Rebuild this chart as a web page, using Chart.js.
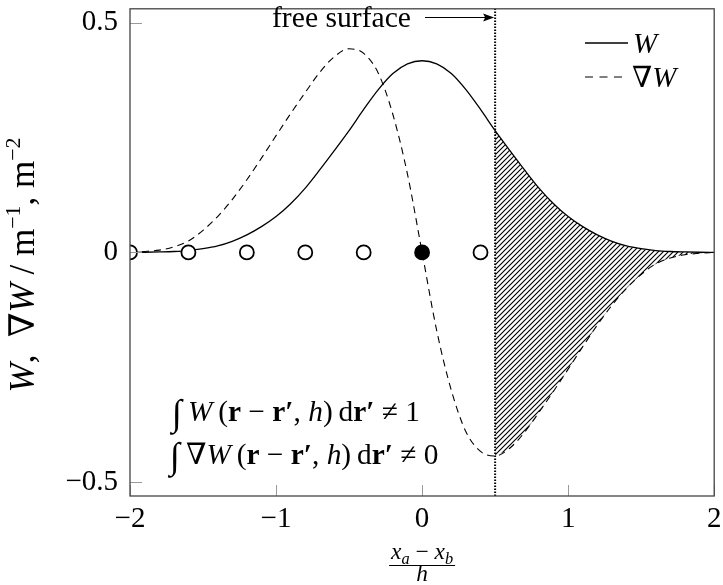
<!DOCTYPE html>
<html>
<head>
<meta charset="utf-8">
<script src="https://cdn.jsdelivr.net/npm/chart.js@4.4.1/dist/chart.umd.min.js"></script>
<style>
  html, body { margin: 0; padding: 0; background: #fff; }
  #wrap { width: 723px; height: 585px; }
</style>
</head>
<body>
<div id="wrap"><canvas id="myChart" width="723" height="585"></canvas></div>
<script>
// kernel values
const xValues = [-2.0, -1.9, -1.8, -1.7, -1.6, -1.5, -1.4, -1.3, -1.2, -1.1, -1.0,
                 -0.9, -0.8, -0.7, -0.6, -0.5, -0.4, -0.3, -0.2, -0.1, 0.0,
                 0.1, 0.2, 0.3, 0.4, 0.5, 0.6, 0.7, 0.8, 0.9, 1.0,
                 1.1, 1.2, 1.3, 1.4, 1.5, 1.6, 1.7, 1.8, 1.9, 2.0];
const wValues = [0.0, 0.0003, 0.001, 0.002, 0.004, 0.008, 0.014, 0.024, 0.038, 0.056, 0.078,
                 0.106, 0.140, 0.180, 0.222, 0.265, 0.311, 0.354, 0.389, 0.410, 0.417,
                 0.410, 0.389, 0.354, 0.311, 0.265, 0.222, 0.180, 0.140, 0.106, 0.078,
                 0.056, 0.038, 0.024, 0.014, 0.008, 0.004, 0.002, 0.001, 0.0003, 0.0];
const gradWValues = [0.0, 0.002, 0.005, 0.012, 0.025, 0.048, 0.078, 0.115, 0.158, 0.205, 0.254,
                     0.302, 0.348, 0.392, 0.426, 0.443, 0.433, 0.39, 0.30, 0.17, 0.0,
                     -0.17, -0.30, -0.39, -0.433, -0.443, -0.426, -0.392, -0.348, -0.302, -0.254,
                     -0.205, -0.158, -0.115, -0.078, -0.048, -0.025, -0.012, -0.005, -0.002, 0.0];
const particleX = [-2.0, -1.6, -1.2, -0.8, -0.4, 0.0, 0.4];
const particleY = [0, 0, 0, 0, 0, 0, 0];
const centreParticle = 0.0;
const surfaceX = 0.5;
const xTicks = [-2, -1, 0, 1, 2];
const yTicks = [-0.5, 0, 0.5];

const serif = '"Liberation Serif", "DejaVu Serif", serif';
const canvas = document.getElementById('myChart');

function makeHatch() {
    const s = 5;
    const c = document.createElement('canvas');
    c.width = s; c.height = s;
    const g = c.getContext('2d');
    g.strokeStyle = '#000';
    g.lineWidth = 1.15;
    g.beginPath();
    g.moveTo(0, s); g.lineTo(s, 0);
    g.moveTo(-1, 1); g.lineTo(1, -1);
    g.moveTo(s - 1, s + 1); g.lineTo(s + 1, s - 1);
    g.stroke();
    return g.createPattern(c, 'repeat');
}

const pts = (ys) => xValues.map((x, i) => ({ x: x, y: ys[i] }));
const beyond = (ys) => xValues.map((x, i) => ({ x: x, y: ys[i] })).filter(p => p.x >= surfaceX);

// parts: [text, style, sizeFactor, dyFactor]
function fontOf(p, size) {
    return (p[1] || '') + ' ' + (size * (p[2] || 1)).toFixed(2) + 'px ' + serif;
}
function richWidth(ctx, parts, size) {
    let w = 0;
    parts.forEach(p => { ctx.font = fontOf(p, size); w += ctx.measureText(p[0]).width; });
    return w;
}
function fitSize(ctx, parts, size, target) {
    return size * target / richWidth(ctx, parts, size);
}
function drawRich(ctx, parts, size, x, y, align) {
    const total = richWidth(ctx, parts, size);
    let cx = align === 'center' ? x - total / 2 : x;
    parts.forEach(p => {
        ctx.font = fontOf(p, size);
        ctx.fillText(p[0], cx, y + (p[3] || 0) * size);
        cx += ctx.measureText(p[0]).width;
    });
}

const decor = {
    id: 'decor',
    afterDraw(chart) {
        const ctx = chart.ctx;
        const a = chart.chartArea;
        const xs = chart.scales.x, ys = chart.scales.y;
        ctx.save();

        // inside ticks
        ctx.strokeStyle = '#9a9a9a';
        ctx.lineWidth = 1;
        ctx.beginPath();
        xTicks.forEach(v => {
            const px = Math.round(xs.getPixelForValue(v)) + 0.5;
            ctx.moveTo(px, a.bottom); ctx.lineTo(px, a.bottom - 11);
        });
        yTicks.forEach(v => {
            const py = Math.round(ys.getPixelForValue(v)) + 0.5;
            ctx.moveTo(a.left, py); ctx.lineTo(a.left + 12, py);
        });
        ctx.stroke();

        // frame
        ctx.strokeStyle = '#444';
        ctx.lineWidth = 1.3;
        ctx.strokeRect(a.left, a.top, a.right - a.left, a.bottom - a.top);

        ctx.fillStyle = '#000';
        ctx.textBaseline = 'alphabetic';
        ctx.textAlign = 'left';

        // free surface label + arrow
        const sx = xs.getPixelForValue(surfaceX);
        const fsParts = [['free surface', '']];
        drawRich(ctx, fsParts, fitSize(ctx, fsParts, 28, 139), 272, 27);
        ctx.strokeStyle = '#000';
        ctx.lineWidth = 1.2;
        ctx.beginPath();
        ctx.moveTo(425, 17.5); ctx.lineTo(sx - 8, 17.5);
        ctx.stroke();
        ctx.beginPath();
        ctx.moveTo(sx - 1, 17.5); ctx.lineTo(sx - 12, 13.5); ctx.lineTo(sx - 10, 17.5); ctx.lineTo(sx - 12, 21.5);
        ctx.closePath(); ctx.fill();

        // legend
        ctx.lineWidth = 1.3;
        ctx.setLineDash([]);
        ctx.beginPath(); ctx.moveTo(585, 43); ctx.lineTo(628, 43); ctx.stroke();
        ctx.lineWidth = 1.1;
        ctx.setLineDash([8, 6.5]);
        ctx.beginPath(); ctx.moveTo(585, 77); ctx.lineTo(628, 77); ctx.stroke();
        ctx.setLineDash([]);
        drawRich(ctx, [['W', 'italic']], 29, 633, 53);
        drawRich(ctx, [['\u2207', ''], ['W', 'italic']], 29, 632, 87);

        // integral annotations
        const line1 = [['\u222B', '', 1.25, 0.12], ['\u2009', ''], ['W', 'italic'], ['\u2009(', ''], ['r', 'bold'], [' \u2212 ', ''],
                       ['r\u2032', 'bold'], [', ', ''], ['h', 'italic'], [')\u2009d', ''], ['r\u2032', 'bold'], [' \u2260 1', '']];
        const line2 = [['\u222B', '', 1.25, 0.12], ['\u2009\u2207', ''], ['W', 'italic'], ['\u2009(', ''], ['r', 'bold'], [' \u2212 ', ''],
                       ['r\u2032', 'bold'], [', ', ''], ['h', 'italic'], [')\u2009d', ''], ['r\u2032', 'bold'], [' \u2260 0', '']];
        const isz = fitSize(ctx, line1, 25, 248);
        drawRich(ctx, line1, isz, 172, 421);
        drawRich(ctx, line2, isz, 170, 464);

        // x axis title as fraction
        const cx = (a.left + a.right) / 2;
        const num = [['x', 'italic'], ['a', 'italic', 0.7, 0.2], [' \u2212 ', ''], ['x', 'italic'], ['b', 'italic', 0.7, 0.2]];
        const nsz = fitSize(ctx, num, 22, 62);
        drawRich(ctx, num, nsz, cx, 559, 'center');
        ctx.lineWidth = 1;
        ctx.beginPath(); ctx.moveTo(cx - 33, 565.5); ctx.lineTo(cx + 33, 565.5); ctx.stroke();
        drawRich(ctx, [['h', 'italic']], nsz, cx, 581, 'center');

        // y axis title, rotated
        ctx.translate(34, 265);
        ctx.rotate(-Math.PI / 2);
        const yt = [['W', 'italic'], [',  \u2207', ''], ['W', 'italic'], [' / m', ''], ['\u22121', '', 0.62, -0.4],
                    [', m', ''], ['\u22122', '', 0.62, -0.4]];
        drawRich(ctx, yt, fitSize(ctx, yt, 28, 255), 0, 0, 'center');
        ctx.restore();
    }
};

const fmt = v => (v < 0 ? '\u2212' + Math.abs(v) : String(v));

new Chart(canvas, {
    type: 'line',
    data: {
        datasets: [
            {
                label: 'particles',
                data: particleX.map((x, i) => ({ x: x, y: particleY[i] })),
                showLine: false,
                pointRadius: 7,
                pointBorderWidth: 1.8,
                pointBorderColor: '#000',
                pointBackgroundColor: particleX.map(x => (x === centreParticle ? '#000' : '#fff')),
                clip: 0
            },
            {
                label: 'W',
                data: pts(wValues),
                borderColor: '#000',
                borderWidth: 1.3,
                pointRadius: 0,
                cubicInterpolationMode: 'monotone',
                fill: false
            },
            {
                label: '\u2207W',
                data: pts(gradWValues),
                borderColor: '#000',
                borderWidth: 1.1,
                borderDash: [7, 5],
                pointRadius: 0,
                cubicInterpolationMode: 'monotone',
                fill: false
            },
            {
                label: 'surface',
                data: [{ x: surfaceX, y: -0.53 }, { x: surfaceX, y: 0.53 }],
                borderColor: '#000',
                borderWidth: 2,
                borderDash: [1.6, 1.4],
                pointRadius: 0,
                fill: false
            },
            {
                label: 'hatchTop',
                data: beyond(wValues),
                borderWidth: 0,
                borderColor: 'rgba(0,0,0,0)',
                pointRadius: 0,
                cubicInterpolationMode: 'monotone',
                backgroundColor: makeHatch(),
                fill: '+1'
            },
            {
                label: 'hatchBottom',
                data: beyond(gradWValues),
                borderWidth: 0,
                borderColor: 'rgba(0,0,0,0)',
                pointRadius: 0,
                cubicInterpolationMode: 'monotone',
                fill: false
            }
        ]
    },
    options: {
        responsive: false,
        animation: false,
        layout: { padding: { left: 0, right: 4, top: 4, bottom: 0 } },
        plugins: { legend: { display: false }, tooltip: { enabled: false } },
        scales: {
            x: {
                type: 'linear',
                min: -2,
                max: 2,
                grid: { display: false, drawTicks: false },
                border: { display: false },
                afterBuildTicks: s => { s.ticks = xTicks.map(v => ({ value: v })); },
                afterFit: s => { s.height = 89; s.paddingLeft = 0; s.paddingRight = 0; },
                ticks: {
                    color: '#000',
                    padding: 6,
                    maxRotation: 0,
                    autoSkip: false,
                    font: { family: serif, size: 29 },
                    callback: v => fmt(v)
                }
            },
            y: {
                type: 'linear',
                min: -0.53,
                max: 0.53,
                grid: { display: false, drawTicks: false },
                border: { display: false },
                afterBuildTicks: s => { s.ticks = yTicks.map(v => ({ value: v })); },
                afterFit: s => { s.width = 130; s.paddingTop = 0; s.paddingBottom = 0; },
                ticks: {
                    color: '#000',
                    padding: 12,
                    autoSkip: false,
                    font: { family: serif, size: 29 },
                    callback: v => fmt(v)
                }
            }
        }
    },
    plugins: [decor]
});
</script>
</body>
</html>
